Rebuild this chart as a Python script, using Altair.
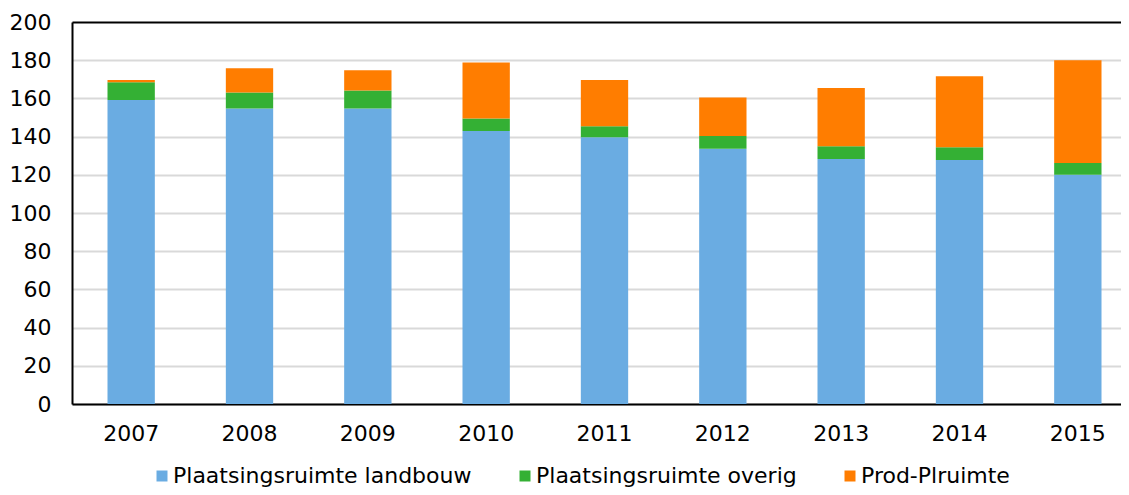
import altair as alt
import pandas as pd

years = ["2007", "2008", "2009", "2010", "2011", "2012", "2013", "2014", "2015"]
series = ["Plaatsingsruimte landbouw", "Plaatsingsruimte overig", "Prod-Plruimte"]
landbouw = [159.1, 154.7, 154.7, 142.9, 139.6, 133.7, 128.3, 127.8, 120.0]
overig = [9.3, 8.4, 9.5, 6.6, 5.8, 6.6, 6.6, 6.6, 6.2]
prod = [1.2, 12.7, 10.6, 29.3, 24.2, 20.2, 30.6, 37.2, 53.8]
colors = ["#6AACE2", "#34B034", "#FF7D00"]
y_ticks = [0, 20, 40, 60, 80, 100, 120, 140, 160, 180, 200]

rows = []
for i, y in enumerate(years):
    for k, (name, vals) in enumerate(zip(series, [landbouw, overig, prod])):
        rows.append({"jaar": y, "reeks": name, "waarde": vals[i], "idx": k})
df = pd.DataFrame(rows)

FONT = "DejaVu Sans"

chart = alt.Chart(df).mark_bar().encode(
    x=alt.X("jaar:N", sort=years, title=None,
            scale=alt.Scale(paddingInner=0.6, paddingOuter=0.3, range=[0, 1065]),
            axis=alt.Axis(labelAngle=0, ticks=False, domain=True, domainColor="#000000",
                          domainWidth=2, labelPadding=19, labelFontSize=22,
                          labelColor="#000000", labelFont=FONT, grid=False)),
    y=alt.Y("waarde:Q", stack="zero", title=None,
            scale=alt.Scale(domain=[0, 200], nice=False),
            axis=alt.Axis(values=y_ticks, ticks=False, domain=True, domainColor="#000000",
                          domainWidth=2, labelPadding=21, labelFontSize=22,
                          labelColor="#000000", labelFont=FONT, grid=True,
                          gridColor={"expr": "datum.value == 200 ? '#000000' : '#D9D9D9'"},
                          gridWidth=2)),
    color=alt.Color("reeks:N", sort=series,
                    scale=alt.Scale(domain=series, range=colors),
                    legend=alt.Legend(title=None, orient="none", direction="horizontal",
                                      legendX=79, legendY=443, symbolType="square",
                                      symbolSize=121, symbolStrokeWidth=0,
                                      labelFontSize=22, labelFont=FONT,
                                      labelColor="#000000", labelOffset=0,
                                      columnPadding=42, labelLimit=0)),
    order=alt.Order("idx:Q", sort="ascending"),
).properties(
    width=1049, height=382,
    autosize=alt.AutoSizeParams(type="none"),
    padding={"left": 64, "top": 14, "right": 0, "bottom": 83},
).configure_view(
    stroke=None
).configure(background="#FFFFFF")

chart.save("out.html", embed_options={"renderer": "svg", "actions": False})
